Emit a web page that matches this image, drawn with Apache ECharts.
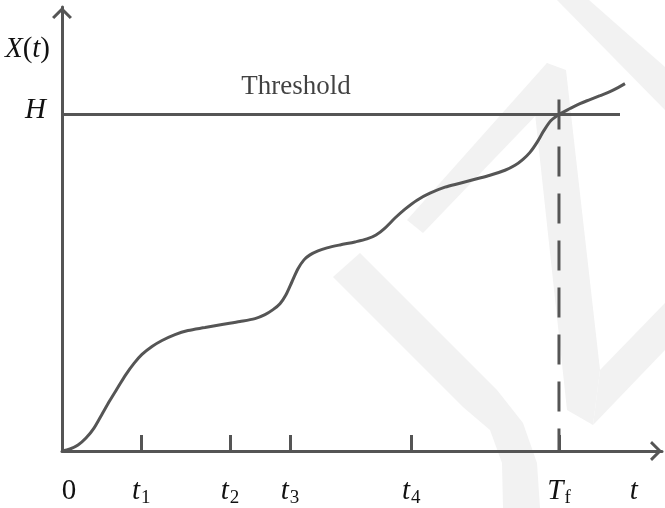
<!DOCTYPE html>
<html>
<head>
<meta charset="utf-8">
<script src="https://cdn.jsdelivr.net/npm/echarts@6/dist/echarts.min.js"></script>
<style>
  html, body { margin: 0; padding: 0; background: #ffffff; }
  #chart { width: 665px; height: 508px; }
</style>
</head>
<body>
<div id="chart"></div>
<script>
// Time positions along the t axis (axis runs 0..10)
const tickNames = ['t1', 't2', 't3', 't4', 'Tf'];
const tickTimes = [1.32, 2.80, 3.80, 5.82, 8.283];
const axisEndLabelTime = 9.53;      // where the "t" axis name sits

// Degradation path X(t)
const pathT = [0, 0.133, 0.267, 0.4, 0.533, 0.667, 0.8, 0.933, 1.067, 1.2, 1.333, 1.5, 1.667,
  1.883, 2.1, 2.383, 2.667, 2.967, 3.217, 3.383, 3.517, 3.633, 3.733, 3.833, 3.933, 4.033,
  4.133, 4.267, 4.417, 4.633, 4.883, 5.083, 5.233, 5.383, 5.55, 5.717, 5.917, 6.133, 6.383,
  6.633, 6.883, 7.133, 7.383, 7.55, 7.683, 7.8, 7.917, 8.033, 8.15, 8.283, 8.467, 8.633,
  8.8, 8.967, 9.133, 9.267, 9.383];
const pathX = [0, 0.045, 0.135, 0.291, 0.516, 0.830, 1.143, 1.435, 1.726, 1.973, 2.175, 2.354, 2.489,
  2.623, 2.713, 2.780, 2.848, 2.915, 2.982, 3.072, 3.184, 3.318, 3.520, 3.812, 4.103, 4.305,
  4.417, 4.507, 4.574, 4.641, 4.709, 4.776, 4.865, 5.022, 5.247, 5.448, 5.650, 5.807, 5.942,
  6.031, 6.121, 6.211, 6.323, 6.435, 6.570, 6.726, 6.951, 7.220, 7.444, 7.58, 7.713, 7.825,
  7.915, 8.004, 8.094, 8.184, 8.274];

// Failure threshold
const thresholdH = 7.58;
const thresholdEnd = 9.3;
const thresholdLabel = 'Threshold';
const thresholdLabelPos = [3.9, 8.2];
const failureLineTop = 7.915;

// Vertical axis labels
const yLabelValues = [thresholdH, 9.04];

const INK = '#555555';
const SERIF = '"Liberation Serif", "Times New Roman", serif';

const xLabelValues = [0].concat(tickTimes, [axisEndLabelTime]);
const xLabelText = {};
xLabelText[0] = '{n0|0}';
tickNames.forEach(function (name, i) {
  xLabelText[tickTimes[i]] = '{i|' + name.charAt(0) + '}{s|' + name.slice(1) + '}';
});
xLabelText[axisEndLabelTime] = '{i|t}';

const yLabelText = {};
yLabelText[yLabelValues[0]] = '{h|H}';
yLabelText[yLabelValues[1]] = '{i|X}{n|(}{i|t}{n|)}';

const arrowPath = 'path://M10 0 L20 10 L17.8 12 L10 4.2 L2.2 12 L0 10 Z';

const richBase = {
  i: { fontFamily: SERIF, fontStyle: 'italic', fontSize: 29, color: '#111', verticalAlign: 'top', lineHeight: 30 },
  n: { fontFamily: SERIF, fontSize: 29, color: '#111', verticalAlign: 'top', lineHeight: 30 },
  n0: { fontFamily: SERIF, fontSize: 29, color: '#111', padding: [0, 0, 0, 14], verticalAlign: 'top', lineHeight: 30 },
  s: { fontFamily: SERIF, fontSize: 19, color: '#111', verticalAlign: 'top', padding: [12, 0, 0, 1], lineHeight: 22 },
  h: { fontFamily: SERIF, fontStyle: 'italic', fontSize: 29, color: '#111', padding: [0, 4, 8, 0] }
};

// Faint background mark
const wmFill = '#f2f2f2';
const wmShapes = [
  [[547, 63], [567, 83], [423, 233], [407, 220]],
  [[547, 63], [566, 70], [600, 370], [593, 425], [567, 410], [533, 95]],
  [[600, 370], [665, 303], [665, 350], [593, 425]],
  [[557, 0], [589, 0], [665, 67], [665, 110]],
  [[333, 277], [360, 253], [497, 390], [523, 423], [537, 463], [540, 508], [503, 508],
   [502, 463], [490, 430], [463, 407]]
];

const chart = echarts.init(document.getElementById('chart'));
chart.setOption({
  backgroundColor: '#ffffff',
  animation: false,
  graphic: wmShapes.map(function (pts) {
    return { type: 'polygon', silent: true, z: -10, shape: { points: pts }, style: { fill: wmFill } };
  }),
  grid: { left: 62, right: 3, top: 7, bottom: 55 },
  xAxis: {
    type: 'value', min: 0, max: 10,
    splitLine: { show: false },
    axisLine: {
      onZero: false,
      lineStyle: { color: INK, width: 3 },
      symbol: ['none', arrowPath], symbolSize: [20, 12], symbolOffset: [0, -6]
    },
    axisTick: {
      show: true, inside: true, length: 16, customValues: tickTimes,
      lineStyle: { color: INK, width: 3 }
    },
    axisLabel: {
      show: true, margin: 26, customValues: xLabelValues,
      formatter: function (v) { return xLabelText[v] || ''; },
      rich: richBase
    }
  },
  yAxis: {
    type: 'value', min: 0, max: 10,
    splitLine: { show: false },
    axisLine: {
      onZero: false,
      lineStyle: { color: INK, width: 3 },
      symbol: ['none', arrowPath], symbolSize: [20, 12], symbolOffset: [0, -6]
    },
    axisTick: { show: false },
    axisLabel: {
      show: true, margin: 12, customValues: yLabelValues, align: 'right',
      formatter: function (v) { return yLabelText[v] || ''; },
      rich: {
        i: { fontFamily: SERIF, fontStyle: 'italic', fontSize: 29, color: '#111' },
        n: { fontFamily: SERIF, fontSize: 29, color: '#111' },
        h: richBase.h
      }
    }
  },
  series: [
    {
      name: 'threshold', type: 'line', symbol: 'none', silent: true, z: 3,
      lineStyle: { color: INK, width: 3 },
      data: [[0, thresholdH], [thresholdEnd, thresholdH]]
    },
    {
      name: 'failure time', type: 'line', symbol: 'none', silent: true, z: 3,
      lineStyle: { color: INK, width: 3, type: [30, 17] },
      data: [[tickTimes[4], failureLineTop], [tickTimes[4], 0]]
    },
    {
      name: 'X(t)', type: 'line', symbol: 'none', smooth: 0.3, silent: true, z: 4,
      lineStyle: { color: INK, width: 3 },
      data: pathT.map(function (t, i) { return [t, pathX[i]]; })
    },
    {
      name: 'label', type: 'scatter', symbolSize: 0, silent: true,
      data: [thresholdLabelPos],
      label: {
        show: true, position: 'inside', formatter: thresholdLabel,
        fontFamily: SERIF, fontSize: 27, color: '#111'
      }
    }
  ]
});
</script>
</body>
</html>
